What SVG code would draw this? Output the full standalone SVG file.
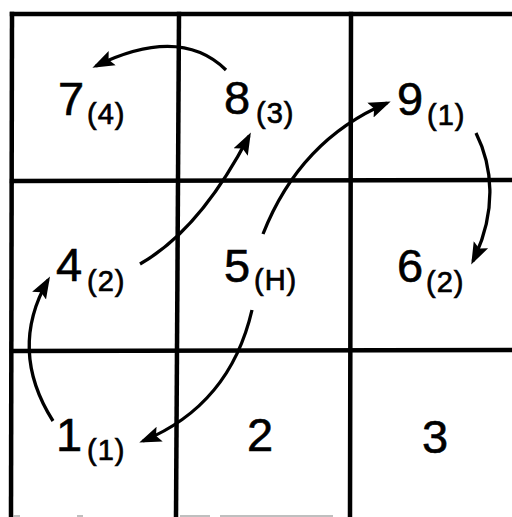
<svg xmlns="http://www.w3.org/2000/svg" width="512" height="517" viewBox="0 0 512 517">
<style>
.grid{stroke:#000;stroke-width:4.5;fill:none;stroke-linecap:square}
.faint{stroke:#aaa;stroke-width:1.5}
.big{font-family:"Liberation Sans",Arial,sans-serif;font-size:47px;fill:#000;stroke:#000;stroke-width:0.6}
.sub{font-family:"Liberation Sans",Arial,sans-serif;font-size:29px;fill:#000;stroke:#000;stroke-width:0.7;letter-spacing:1px}
.arc{stroke:#000;stroke-width:3.3;fill:none;marker-end:url(#ah)}
</style>
<defs>
<marker id="ah" markerUnits="userSpaceOnUse" viewBox="0 -9 22 18" refX="18" refY="0" markerWidth="22" markerHeight="18" orient="auto">
<path d="M0,-8 L22,0 L0,8 L4,0 z" fill="#000"/>
</marker>
</defs>
<rect width="512" height="517" fill="#fff"/>
<g id="grid">
<line class="grid" x1="12" y1="14" x2="512" y2="14"/>
<line class="grid" x1="12" y1="181" x2="512" y2="180"/>
<line class="grid" x1="12" y1="351" x2="512" y2="350"/>
<line class="grid" x1="12" y1="14" x2="11" y2="517"/>
<line class="grid" x1="179" y1="14" x2="176" y2="517"/>
<line class="grid" x1="351" y1="14" x2="350" y2="517"/>
<line class="faint" x1="13" y1="516" x2="20" y2="516"/>
<line class="faint" x1="77" y1="516" x2="83" y2="516"/>
<line class="faint" x1="180" y1="516" x2="210" y2="516"/>
<line class="faint" x1="220" y1="516" x2="333" y2="516"/>
</g>
<g id="n7"><text class="big" x="58" y="115">7</text><text class="sub" x="87" y="124">(4)</text></g>
<g id="n8"><text class="big" x="224" y="114">8</text><text class="sub" x="256" y="123">(3)</text></g>
<g id="n9"><text class="big" x="397" y="115">9</text><text class="sub" x="427" y="125">(1)</text></g>
<g id="n4"><text class="big" x="56" y="281">4</text><text class="sub" x="87" y="291">(2)</text></g>
<g id="n5"><text class="big" x="224" y="282">5</text><text class="sub" x="254" y="290">(H)</text></g>
<g id="n6"><text class="big" x="397" y="282">6</text><text class="sub" x="426" y="292">(2)</text></g>
<g id="n1"><text class="big" x="56" y="451">1</text><text class="sub" x="87" y="460">(1)</text></g>
<g id="n2"><text class="big" x="247" y="451">2</text></g>
<g id="n3"><text class="big" x="422" y="453">3</text></g>
<g id="connectors">
<path class="arc" d="M226,70 Q180,25 96,66"/>
<path class="arc" d="M140,264 Q200,230 249,136"/>
<path class="arc" d="M263,234 Q300,140 387,103"/>
<path class="arc" d="M476,133 C492,165 498,210 473,261"/>
<path class="arc" d="M252,310 Q230,405 143,441"/>
<path class="arc" d="M53,421 Q8,350 48,280"/>
</g>
</svg>
